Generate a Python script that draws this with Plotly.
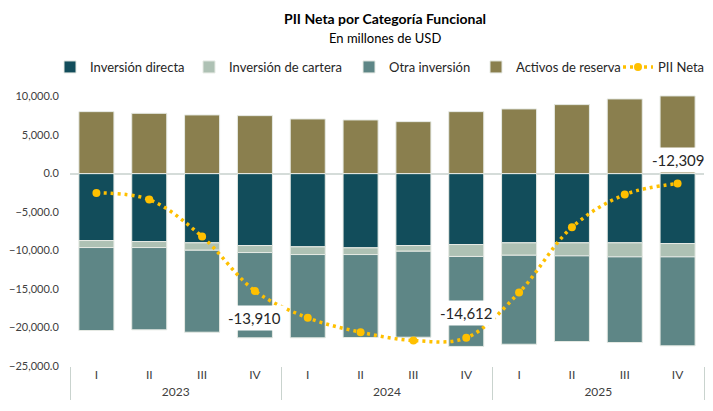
import plotly.graph_objects as go

years = ["2023"] * 4 + ["2024"] * 4 + ["2025"] * 4
quarters = ["I", "II", "III", "IV"] * 3

inversion_directa = [-8700, -8830, -9000, -9350, -9520, -9650, -9350, -9220, -9000, -9000, -9000, -9090]
inversion_cartera = [-910, -780, -960, -910, -1000, -870, -740, -1550, -1610, -1690, -1820, -1730]
otra_inversion = [-10780, -10690, -10650, -11080, -10820, -10780, -11170, -11690, -11560, -11130, -11130, -11560]
activos_reserva = [8050, 7830, 7620, 7530, 7100, 6970, 6750, 8050, 8400, 8960, 9700, 10090]
pii_neta = [-2510, -3380, -8180, -15240, -18740, -20610, -21690, -21340, -15450, -6970, -2730, -1300]

label_idx = [3, 7, 11]
label_text = ["-13,910", "-14,612", "-12,309"]
label_y = [-18700, -18050, 1820]

x = [years, quarters]
FONT = "Lato"
W, H = 713, 411

fig = go.Figure()
bar_line = dict(color="#E6EAE4", width=1)
fig.add_trace(go.Bar(x=x, y=inversion_directa, name="Inversión directa", legend="legend",
                     marker=dict(color="#124D5B", line=bar_line)))
fig.add_trace(go.Bar(x=x, y=inversion_cartera, name="Inversión de cartera", legend="legend2",
                     marker=dict(color="#AEC1B4", line=bar_line)))
fig.add_trace(go.Bar(x=x, y=otra_inversion, name="Otra inversión", legend="legend3",
                     marker=dict(color="#5E8686", line=bar_line)))
fig.add_trace(go.Bar(x=x, y=activos_reserva, name="Activos de reserva", legend="legend4",
                     marker=dict(color="#8A7F4E", line=bar_line)))
fig.add_trace(go.Scatter(x=x, y=pii_neta, name="PII Neta", mode="lines+markers", legend="legend5",
                         line=dict(color="#FFC000", width=3.5, dash="3px,4px", shape="spline"),
                         marker=dict(color="#FFC000", size=8)))

for i, t, yv in zip(label_idx, label_text, label_y):
    fig.add_annotation(x=i, y=yv, text=t, showarrow=False, bgcolor="white",
                       font=dict(family=FONT, size=15, color="#262626"),
                       borderpad=3)

# page is drawn with an 8px body offset; positions below are compensated
fig.add_annotation(xref="paper", yref="paper", x=(377 - 62) / 634, y=(358.5 - 30) / 274,
                   xanchor="center", yanchor="middle",
                   text="En millones de USD", showarrow=False,
                   font=dict(family=FONT, size=13, color="#000000"))


def legend_at(x_px):
    return dict(orientation="h", xref="container", x=x_px / W, xanchor="left",
                yref="container", y=1 - 59 / H, yanchor="middle",
                font=dict(family=FONT, size=13, color="#262626"),
                itemwidth=30, bgcolor="rgba(0,0,0,0)")


fig.update_layout(
    width=W, height=H,
    margin=dict(l=62, r=17, t=84, b=H - 358.5, autoexpand=False),
    paper_bgcolor="white", plot_bgcolor="white",
    barmode="relative", bargap=0.337,
    font=dict(family=FONT, size=12, color="#404040"),
    title=dict(text="<b>PII Neta por Categoría Funcional</b>",
               xref="container", x=377 / W, xanchor="center",
               yref="container", y=1 - 11 / H, yanchor="middle",
               font=dict(family=FONT, size=14, color="#000000")),
    legend=legend_at(42),
    legend2=legend_at(181),
    legend3=legend_at(341),
    legend4=legend_at(468),
    legend5=legend_at(610),
    showlegend=True,
)
fig.update_yaxes(range=[-25000, 10600], tickvals=[10000, 5000, 0, -5000, -10000, -15000, -20000, -25000],
                 tickformat=",.1f", showgrid=False, zeroline=True, zerolinecolor="#D5DCD9",
                 zerolinewidth=2, ticks="outside", ticklen=8, tickcolor="rgba(0,0,0,0)", automargin=False,
                 tickfont=dict(size=11, color="#404040"))
fig.update_xaxes(type="multicategory", range=[-0.5, 11.5], showgrid=False, showline=False,
                 ticks="outside", ticklen=6, tickcolor="rgba(0,0,0,0)",
                 dividercolor="#C9D3CE", dividerwidth=1, automargin=False,
                 tickfont=dict(size=12, color="#404040"))

fig.write_html("out.html")
